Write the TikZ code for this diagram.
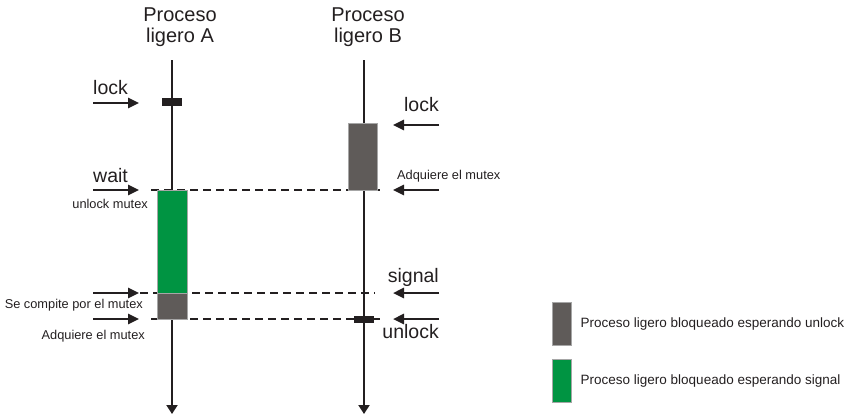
\documentclass[tikz,border=0pt]{standalone}
\usepackage{fontspec}
\setmainfont{Liberation Sans}
\usepackage{tikz}
\usetikzlibrary{arrows.meta, positioning}
\definecolor{waitgray}{HTML}{5F5B59}
\definecolor{waitgreen}{HTML}{009442}
\definecolor{ink}{HTML}{231F20}

\begin{document}
\begin{tikzpicture}[x=1pt, y=-1pt,
    timeline/.style={line width=2pt, draw=ink, -{Triangle[length=9pt,width=11pt]}},
    call/.style={line width=2.5pt, draw=ink, -{Triangle[length=11pt,width=10pt]}},
    sync/.style={line width=2pt, draw=ink, dash pattern=on 8pt off 5pt},
    blockbox/.style={draw=gray!70, line width=1pt, inner sep=0pt},
    lockbar/.style={fill=ink, inner sep=0pt, minimum width=20pt},
    big/.style={inner sep=0pt, text=ink, font=\fontsize{19.5}{21}\selectfont},
    small/.style={inner sep=0pt, text=ink, font=\fontsize{12.8}{14}\selectfont},
    legend/.style={inner sep=0pt, text=ink, font=\fontsize{13.5}{15}\selectfont}]
    \useasboundingbox (0,0) rectangle (858,416);

    % titles
    \node[align=center, text=ink, font=\fontsize{20}{21}\selectfont] (titleA) at (180,27) {Proceso\\ligero A};
    \node[align=center, text=ink, font=\fontsize{20}{21}\selectfont] (titleB) at (368,27) {Proceso\\ligero B};

    % time lines
    \coordinate (topA) at (172,60);
    \coordinate (endA) at (172,414);
    \coordinate (topB) at (364,60);
    \coordinate (endB) at (364,414);
    \draw[timeline] (topA) -- (endA);
    \draw[timeline] (topB) -- (endB);

    % dashed sync lines
    \coordinate (waitL) at (151,190);
    \coordinate (waitR) at (383,190);
    \coordinate (signalL) at (140,293);
    \coordinate (signalR) at (375,293);
    \coordinate (unlockL) at (151,319);
    \coordinate (unlockR) at (383,319);
    \draw[sync] (waitL) -- (waitR);
    \draw[sync] (signalL) -- (signalR);
    \draw[sync] (unlockL) -- (unlockR);

    % blocked intervals
    \node[blockbox, fill=waitgray, minimum width=29pt, minimum height=67pt] (mutexB) at (363,156.5) {};
    \node[blockbox, fill=waitgreen, minimum width=30pt, minimum height=103pt] (condA) at (172,241.5) {};
    \node[blockbox, fill=waitgray, minimum width=30pt, minimum height=26pt] (mutexA) at (172,306) {};
    \node[lockbar, minimum height=8pt] (lockA) at (172,102) {};
    \node[lockbar, minimum height=7pt] (unlockB) at (364,319.5) {};

    % calls into A
    \foreach \y [count=\i] in {103,190,293,319} {
        \coordinate (fromA\i) at (93,\y);
        \coordinate (toA\i) at (139,\y);
        \draw[call] (fromA\i) -- (toA\i);
    }
    % calls into B
    \foreach \y [count=\i] in {125,190,293,319} {
        \coordinate (fromB\i) at (439,\y);
        \coordinate (toB\i) at (393,\y);
        \draw[call] (fromB\i) -- (toB\i);
    }

    % labels
    \node[big, anchor=base west] (lblLockA) at (93,94) {lock};
    \node[big, anchor=base west] (lblWait) at (93,182) {wait};
    \node[big, anchor=base east] (lblLockB) at (439,111) {lock};
    \node[big, anchor=base east] (lblSignal) at (439,282) {signal};
    \node[big, anchor=base east] (lblUnlock) at (439,338) {unlock};
    \node[small, anchor=base west] (lblGetB) at (397,179) {Adquiere el mutex};
    \node[small, anchor=base east] (lblRelease) at (148,208) {unlock mutex};
    \node[small, anchor=base east] (lblCompete) at (143,308) {Se compite por el mutex};
    \node[small, anchor=base east] (lblGetA) at (145,339) {Adquiere el mutex};

    % legend
    \node[blockbox, fill=waitgray, minimum width=19pt, minimum height=43pt] (keyGray) at (561.5,323.5) {};
    \node[blockbox, fill=waitgreen, minimum width=19pt, minimum height=43pt] (keyGreen) at (561.5,380.5) {};
    \node[legend, right=9pt of keyGray] (txtGray) {Proceso ligero bloqueado esperando unlock};
    \node[legend, right=9pt of keyGreen] (txtGreen) {Proceso ligero bloqueado esperando signal};
\end{tikzpicture}
\end{document}
